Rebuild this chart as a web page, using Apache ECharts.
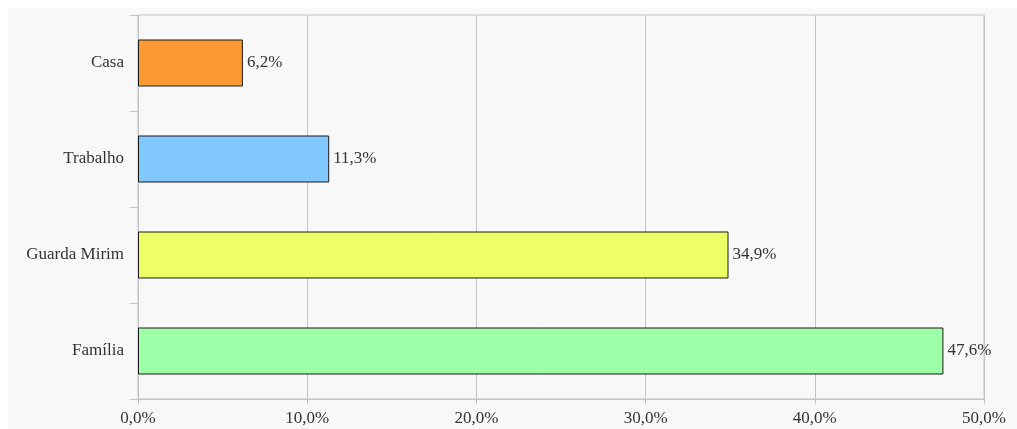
<!DOCTYPE html>
<html>
<head>
<meta charset="utf-8">
<script src="https://cdn.jsdelivr.net/npm/echarts@6/dist/echarts.min.js"></script>
<style>
  html, body { margin: 0; padding: 0; background: #fff; }
  #chart { position: absolute; left: 8px; top: 8px; width: 1009px; height: 421px; background: #f8f8f8; }
</style>
</head>
<body>
<div id="chart"></div>
<script>
// bottom-to-top order
const categories = ['Família', 'Guarda Mirim', 'Trabalho', 'Casa'];
const values = [47.6, 34.9, 11.3, 6.2];
const barColors = ['#9effa9', '#eeff66', '#80c8ff', '#fb9a30'];
const xTicks = [0, 10, 20, 30, 40, 50];

const fmt = v => v.toFixed(1).replace('.', ',') + '%';

const chart = echarts.init(document.getElementById('chart'));

const option = {
  backgroundColor: '#f8f8f8',
  textStyle: { fontFamily: 'Liberation Serif' },
  grid: {
    left: 130,
    right: 33,
    top: 7,
    bottom: 30,
    show: true,
    borderColor: '#c4c4c4',
    borderWidth: 1,
  },
  xAxis: {
    type: 'value',
    min: xTicks[0],
    max: xTicks[xTicks.length - 1],
    interval: 10,
    axisLine: { show: true, lineStyle: { color: '#c4c4c4' } },
    axisTick: { show: true, length: 5, lineStyle: { color: '#c4c4c4' } },
    splitLine: { show: true, lineStyle: { color: '#c4c4c4' } },
    axisLabel: {
      color: '#333',
      fontSize: 17,
      margin: 11,
      formatter: v => fmt(v),
    },
  },
  yAxis: {
    type: 'category',
    data: categories,
    axisLine: { show: true, lineStyle: { color: '#c4c4c4' } },
    axisTick: { show: true, length: 8, lineStyle: { color: '#c4c4c4' } },
    axisLabel: { color: '#333', fontSize: 17, margin: 14 },
  },
  series: [
    {
      type: 'bar',
      data: values.map((v, i) => ({ value: v, itemStyle: { color: barColors[i] } })),
      barWidth: 47,
      itemStyle: { borderColor: '#1a1a1a', borderWidth: 1 },
      label: {
        show: true,
        position: 'right',
        distance: 4,
        color: '#333',
        fontSize: 17,
        fontFamily: 'Liberation Serif',
        formatter: p => fmt(p.value),
      },
    },
  ],
};

chart.setOption(option);
</script>
</body>
</html>
